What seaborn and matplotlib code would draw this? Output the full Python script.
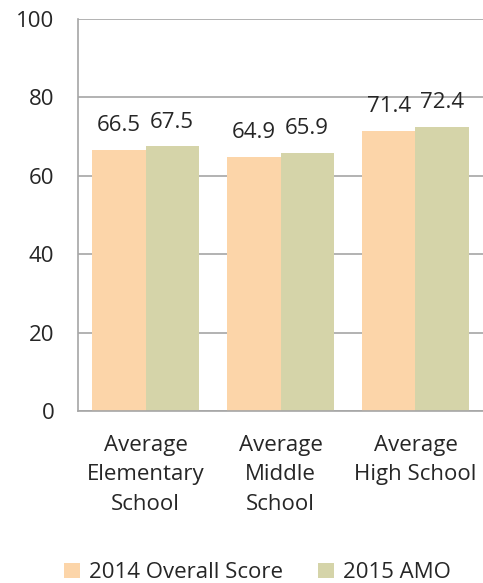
import pandas as pd
import matplotlib.pyplot as plt
import seaborn as sns

categories = ["Average\nElementary\nSchool", "Average\nMiddle\nSchool", "Average\nHigh School"]
series = ["2014 Overall Score", "2015 AMO"]
score_2014 = [66.5, 64.9, 71.4]
amo_2015 = [67.5, 65.9, 72.4]
colors = ["#FCD5A9", "#D5D4A9"]

df = pd.DataFrame({
    "category": categories * 2,
    "series": [series[0]] * 3 + [series[1]] * 3,
    "value": score_2014 + amo_2015,
})

sns.set_style("white")
plt.rcParams["font.family"] = ["Open Sans", "DejaVu Sans"]

fig = plt.figure(figsize=(4.83, 5.83), dpi=100)
ax = fig.add_axes([78 / 483, 1 - 411 / 583, 405 / 483, 392 / 583])

sns.barplot(data=df, x="category", y="value", hue="series", palette=colors,
            width=0.79, gap=0, saturation=1, linewidth=0, ax=ax, zorder=2)

for cont in ax.containers:
    ax.bar_label(cont, fmt="%.1f", padding=10, fontsize=16)

ax.set_ylim(0, 100)
ax.set_xlim(-0.5, 2.5)
ax.set_yticks(range(0, 101, 20))
ax.yaxis.grid(True, color="#A6A6A6", linewidth=1.2, zorder=0)
ax.set_axisbelow(True)
for s in ["top", "right"]:
    ax.spines[s].set_visible(False)
for s in ["left", "bottom"]:
    ax.spines[s].set_color("#A6A6A6")
    ax.spines[s].set_linewidth(1.2)
ax.tick_params(axis="y", labelsize=16, length=0, pad=17)
ax.tick_params(axis="x", labelsize=16, length=0, pad=17)
for lbl in ax.get_xticklabels():
    lbl.set_linespacing(1.55)
ax.set_xlabel("")
ax.set_ylabel("")

handles, labels = ax.get_legend_handles_labels()
ax.legend(handles, labels, loc="lower center", bbox_to_anchor=(0.5 - 23 / 405, -0.49),
          ncol=2, frameon=False, fontsize=16, handlelength=0.7, handleheight=0.7,
          handletextpad=0.4, columnspacing=1.6)

fig.savefig("out.png", dpi=100)
